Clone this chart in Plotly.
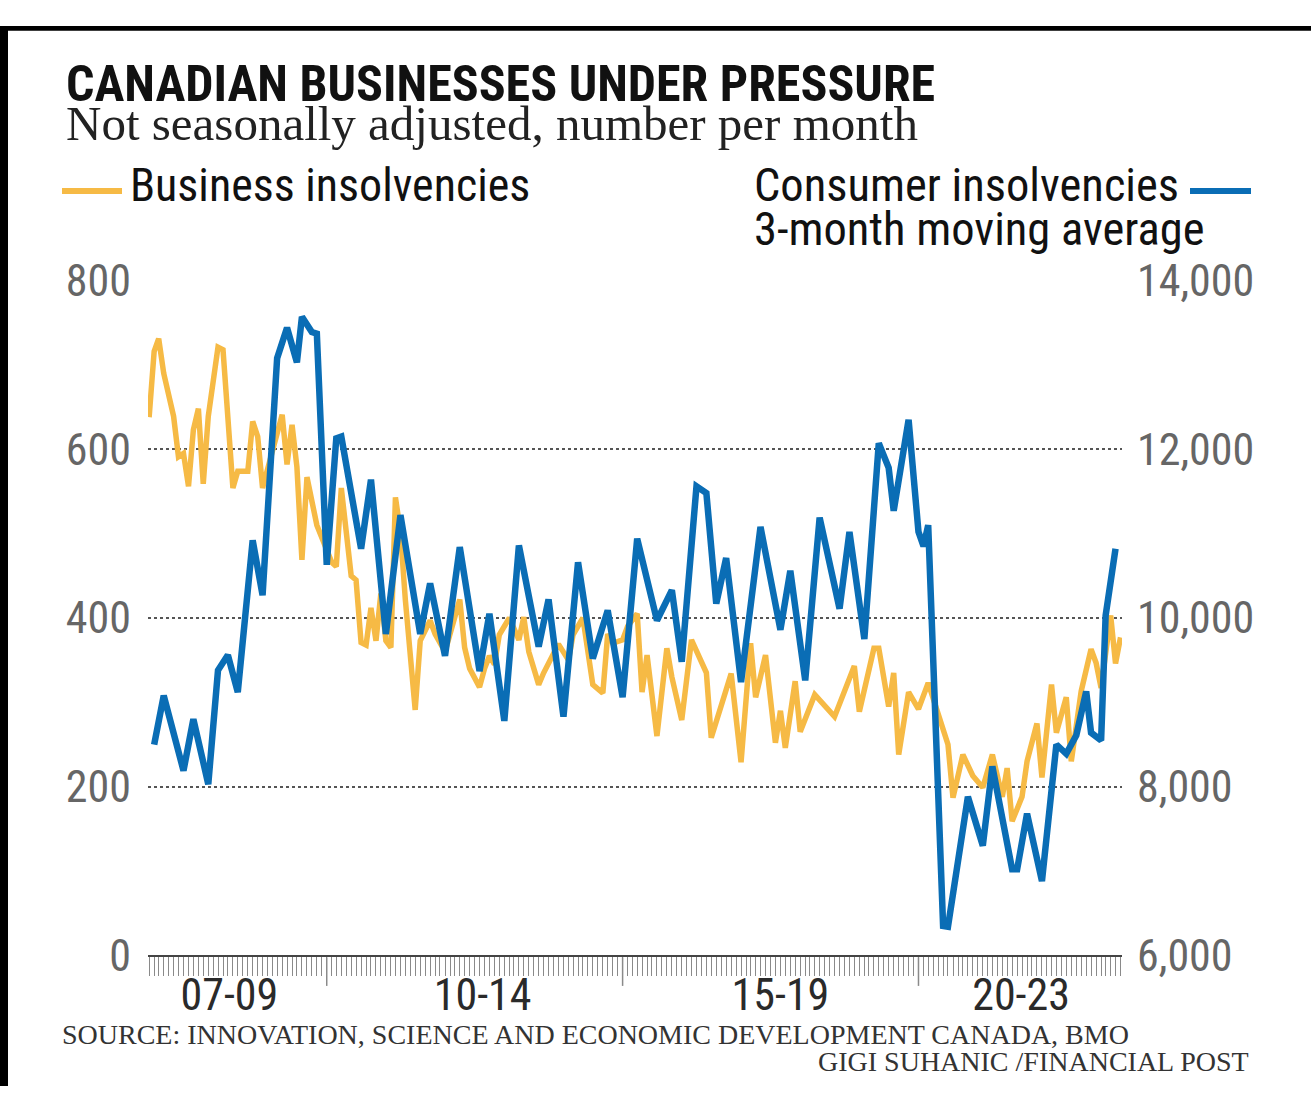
import plotly.graph_objects as go

# Business insolvencies, monthly count (left axis)
business_dates = [
    "2007-01", "2007-02", "2007-03", "2007-04", "2007-06", "2007-07", "2007-08", "2007-09",
    "2007-10", "2007-11", "2007-12", "2008-01", "2008-03", "2008-04", "2008-06", "2008-07",
    "2008-09", "2008-10", "2008-11", "2008-12", "2009-04", "2009-05", "2009-06", "2009-07",
    "2009-08", "2009-09", "2009-11", "2010-02", "2010-03", "2010-04", "2010-06", "2010-07",
    "2010-08", "2010-09", "2010-10", "2010-11", "2010-12", "2011-01", "2011-02", "2011-03",
    "2011-04", "2011-05", "2011-07", "2011-08", "2011-10", "2011-11", "2012-01", "2012-04",
    "2012-05", "2012-06", "2012-08", "2012-09", "2012-10", "2012-11", "2012-12", "2013-02",
    "2013-04", "2013-05", "2013-06", "2013-08", "2013-09", "2013-11", "2013-12", "2014-02",
    "2014-03", "2014-05", "2014-06", "2014-07", "2014-09", "2014-10", "2014-11", "2015-01",
    "2015-02", "2015-04", "2015-05", "2015-06", "2015-08", "2015-10", "2015-11", "2016-01",
    "2016-03", "2016-06", "2016-07", "2016-09", "2016-11", "2017-01", "2017-03", "2017-04",
    "2017-06", "2017-08", "2017-09", "2017-10", "2017-12", "2018-01", "2018-04", "2018-08",
    "2018-12", "2019-01", "2019-04", "2019-05", "2019-07", "2019-08", "2019-09", "2019-11",
    "2019-12", "2020-01", "2020-03", "2020-07", "2020-08", "2020-10", "2020-12", "2021-02",
    "2021-04", "2021-06", "2021-07", "2021-08", "2021-10", "2021-11", "2022-01", "2022-02",
    "2022-04", "2022-05", "2022-07", "2022-08", "2022-10", "2022-12", "2023-01", "2023-02",
    "2023-04", "2023-05", "2023-06",
]
business_values = [
    638, 716, 731, 690, 639, 591, 595, 556,
    623, 648, 559, 639, 721, 718, 554, 574,
    574, 633, 615, 554, 641, 582, 629, 579,
    469, 567, 510, 466, 461, 554, 450, 445,
    371, 368, 412, 373, 429, 373, 365, 543,
    502, 422, 291, 373, 397, 381, 360, 422,
    365, 340, 318, 340, 355, 345, 380, 400,
    374, 401, 360, 321, 335, 360, 369, 350,
    380, 400, 360, 321, 311, 381, 370, 374,
    390, 405, 312, 356, 260, 364, 330, 279,
    374, 335, 258, 295, 334, 229, 370, 306,
    356, 252, 290, 246, 325, 265, 309, 283,
    343, 289, 364, 364, 295, 335, 238, 312,
    301, 292, 323, 250, 187, 238, 213, 199,
    238, 188, 222, 159, 188, 230, 275, 211,
    321, 264, 306, 230, 313, 363, 347, 317,
    403, 346, 377,
]

# Consumer insolvencies, 3-month moving average (right axis)
consumer_dates = [
    "2007-02", "2007-04", "2007-08", "2007-10", "2008-01", "2008-03", "2008-05", "2008-07",
    "2008-10", "2008-12", "2009-03", "2009-05", "2009-07", "2009-08", "2009-10", "2009-11",
    "2010-01", "2010-03", "2010-04", "2010-08", "2010-10", "2011-01", "2011-04", "2011-08",
    "2011-10", "2012-01", "2012-04", "2012-08", "2012-10", "2013-01", "2013-04", "2013-08",
    "2013-10", "2014-01", "2014-04", "2014-07", "2014-10", "2015-01", "2015-04", "2015-08",
    "2015-11", "2016-01", "2016-04", "2016-06", "2016-08", "2016-10", "2017-01", "2017-05",
    "2017-09", "2017-11", "2018-02", "2018-05", "2018-09", "2018-11", "2019-02", "2019-05",
    "2019-07", "2019-08", "2019-11", "2020-01", "2020-02", "2020-03", "2020-06", "2020-07",
    "2020-11", "2021-02", "2021-04", "2021-08", "2021-09", "2021-11", "2022-02", "2022-05",
    "2022-07", "2022-09", "2022-11", "2022-12", "2023-02", "2023-03", "2023-05",
]
consumer_values = [
    8500, 9080, 8190, 8800, 8030, 9380, 9560, 9120,
    10920, 10270, 13080, 13440, 13030, 13570, 13390, 13370,
    10630, 12130, 12150, 10820, 11640, 9810, 11220, 9810,
    10410, 9550, 10840, 9370, 10050, 8780, 10860, 9660,
    10220, 8830, 10660, 9520, 10090, 9060, 10940, 9970,
    10330, 9480, 11560, 11480, 10170, 10710, 9240, 11080,
    9860, 10560, 9260, 11190, 10110, 11020, 9750, 12070,
    11780, 11270, 12350, 11020, 10850, 11100, 6350, 6340,
    7880, 7300, 8240, 7020, 7020, 7680, 6880, 8500,
    8390, 8610, 9130, 8640, 8550, 10030, 10820,
]

left_ticks = [0, 200, 400, 600, 800]
right_ticks = [6000, 8000, 10000, 12000, 14000]
period_labels = ["07-09", "10-14", "15-19", "20-23"]
period_centers = ["2008-05-10", "2012-08-20", "2017-09-01", "2021-09-25"]
period_breaks = ["2010-01-01", "2015-01-01", "2020-01-01"]

ORANGE = "#F6BA45"
BLUE = "#0A6DB5"
W, H = 1311, 1112

SANS = "Roboto Condensed, Liberation Sans Narrow, DejaVu Sans Condensed, Roboto, sans-serif"
SERIF = "Liberation Serif, DejaVu Serif, serif"


def py(px):
    """Convert a pixel row (from top) to paper y."""
    return 1 - px / H


def pxx(px):
    return px / W


fig = go.Figure()
fig.add_trace(go.Scatter(
    x=business_dates, y=business_values, mode="lines", yaxis="y",
    line=dict(color=ORANGE, width=5.5), name="Business insolvencies",
))
fig.add_trace(go.Scatter(
    x=consumer_dates, y=consumer_values, mode="lines", yaxis="y2",
    line=dict(color=BLUE, width=6.5), name="Consumer insolvencies",
))

x_dom = [pxx(148), pxx(1122)]
y_dom = [py(975), py(267)]

fig.update_layout(
    width=W, height=H,
    margin=dict(l=0, r=0, t=0, b=0),
    paper_bgcolor="white", plot_bgcolor="white",
    showlegend=False,
    xaxis=dict(
        domain=x_dom, range=["2006-12-25", "2023-06-10"], type="date",
        showgrid=False, zeroline=False,
        showline=True, linecolor="#444", linewidth=2,
        tickmode="array", tickvals=period_centers, ticktext=period_labels,
        ticks="", ticklabelstandoff=0,
        tickfont=dict(family=SANS, size=44, color="#2a2a2a"),
        minor=dict(ticks="outside", ticklen=19, tickwidth=1, tickcolor="#8a8a8a",
                   dtick="M1", tick0="2007-01-01", showgrid=False),
    ),
    yaxis=dict(
        domain=y_dom, range=[0, 800], tickvals=left_ticks,
        showgrid=True, gridcolor="#555", griddash="dot", gridwidth=1.5,
        zeroline=False, showline=False, ticks="", ticklabelstandoff=16,
        tickfont=dict(family=SANS, size=44, color="#666"),
    ),
    yaxis2=dict(
        domain=y_dom, range=[6000, 14000], tickvals=right_ticks, tickformat=",",
        overlaying="y", side="right", anchor="x",
        showgrid=False, zeroline=False, showline=False, ticks="", ticklabelstandoff=14,
        tickfont=dict(family=SANS, size=44, color="#666"),
    ),
)

shapes = []
# longer ticks separating the period groups
for d in period_breaks:
    shapes.append(dict(type="line", xref="x", yref="paper", x0=d, x1=d,
                       y0=py(977), y1=py(1007), line=dict(color="#8a8a8a", width=1.5)))
# legend keys
shapes.append(dict(type="line", xref="paper", yref="paper", x0=pxx(62), x1=pxx(122),
                   y0=py(173), y1=py(173), line=dict(color=ORANGE, width=6)))
shapes.append(dict(type="line", xref="paper", yref="paper", x0=pxx(1190), x1=pxx(1251),
                   y0=py(173), y1=py(173), line=dict(color=BLUE, width=6)))
# dark frame on the top and left edges
shapes.append(dict(type="rect", xref="paper", yref="paper", x0=0, x1=1, y0=py(5), y1=1,
                   fillcolor="black", line=dict(width=0)))
shapes.append(dict(type="rect", xref="paper", yref="paper", x0=0, x1=pxx(8), y0=0, y1=1,
                   fillcolor="black", line=dict(width=0)))
fig.update_layout(shapes=shapes)

ann = [
    dict(text="<b>CANADIAN BUSINESSES UNDER PRESSURE</b>", x=pxx(64), y=py(61),
         xanchor="left", yanchor="middle", font=dict(family=SANS, size=50, color="#111")),
    dict(text="Not seasonally adjusted, number per month", x=pxx(64), y=py(102),
         xanchor="left", yanchor="middle", font=dict(family=SERIF, size=49, color="#222")),
    dict(text="Business insolvencies", x=pxx(128), y=py(167),
         xanchor="left", yanchor="middle", font=dict(family=SANS, size=46, color="#111")),
    dict(text="Consumer insolvencies", x=pxx(752), y=py(167),
         xanchor="left", yanchor="middle", font=dict(family=SANS, size=46.5, color="#111")),
    dict(text="3-month moving average", x=pxx(752), y=py(213),
         xanchor="left", yanchor="middle", font=dict(family=SANS, size=46.5, color="#111")),
    dict(text="SOURCE: INNOVATION, SCIENCE AND ECONOMIC DEVELOPMENT CANADA, BMO",
         x=pxx(60), y=py(1058), xanchor="left", yanchor="middle",
         font=dict(family=SERIF, size=28, color="#333")),
    dict(text="GIGI SUHANIC /FINANCIAL POST", x=pxx(1251), y=py(1086),
         xanchor="right", yanchor="middle", font=dict(family=SERIF, size=28, color="#333")),
]
for a in ann:
    a.update(xref="paper", yref="paper", showarrow=False)
fig.update_layout(annotations=ann)

fig.write_html(
    "out.html",
    config={"displayModeBar": False, "responsive": False},
    post_script="document.documentElement.style.margin='0';"
                "document.body.style.margin='0';"
                "document.body.style.overflow='hidden';",
)
